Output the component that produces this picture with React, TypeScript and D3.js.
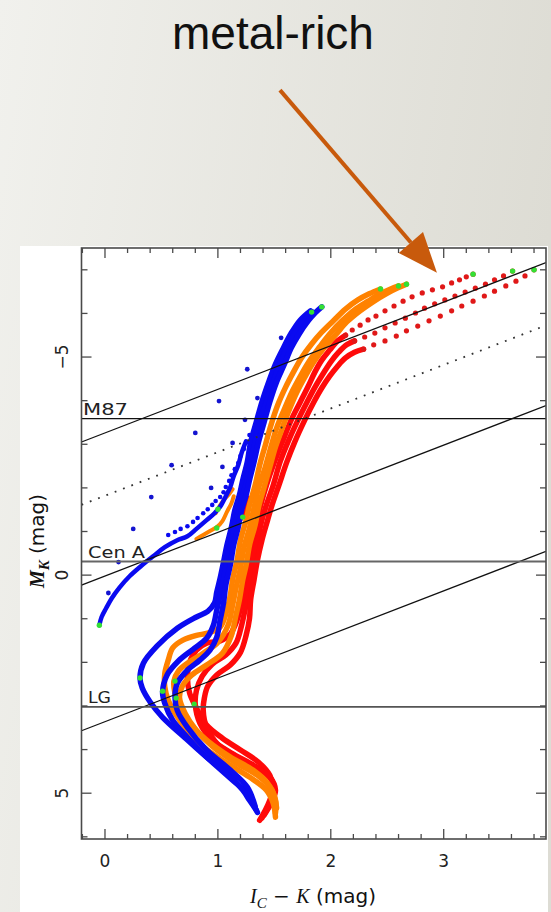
import React from 'react';
import * as d3 from 'd3';

type P = [number, number];

// ---------- axes ----------
const X_DOMAIN: [number, number] = [-0.208, 3.906];
const Y_DOMAIN: [number, number] = [-7.5, 6.05];
const X_MAJOR = [0, 1, 2, 3];
const X_TICK_LABELS = ['0', '1', '2', '3'];
const Y_MAJOR = [-5, 0, 5];
const Y_TICK_LABELS = ['\u22125', '0', '5'];

// ---------- reference lines ----------
const HLINE_LABELS = ['M87', 'Cen A', 'LG'];
const HLINE_MK = [-3.59, -0.31, 3.02];
const DIAG_SOLID_C = [-3.26, 0.02, 3.36]; // M_K = c - (I-K)
const DIAG_DOTTED_C = [-1.82];

// ---------- isochrones (I_C-K, M_K) ----------
const BLUE_1: P[] = [[1.35,5.44],[1.31,5.23],[1.26,5.00],[1.13,4.70],[0.96,4.31],[0.73,3.78],[0.51,3.26],[0.40,2.91],[0.33,2.59],[0.31,2.36],[0.34,2.02],[0.46,1.63],[0.64,1.22],[0.81,0.96],[0.91,0.83],[0.97,0.64],[0.99,0.39],[1.02,0.07],[1.05,-0.30],[1.08,-0.69],[1.12,-1.10],[1.15,-1.49],[1.19,-1.83],[1.22,-2.18],[1.26,-2.59],[1.29,-3.05],[1.34,-3.51],[1.39,-3.97],[1.45,-4.43],[1.51,-4.84],[1.58,-5.21],[1.65,-5.55],[1.73,-5.85],[1.82,-6.06]];
const BLUE_2: P[] = [[1.34,5.39],[1.28,5.16],[1.22,4.93],[1.08,4.54],[0.90,4.17],[0.73,3.72],[0.60,3.33],[0.53,2.94],[0.51,2.68],[0.55,2.29],[0.65,1.97],[0.78,1.70],[0.90,1.45],[0.96,1.15],[0.99,0.80],[1.02,0.46],[1.05,0.11],[1.08,-0.34],[1.12,-0.76],[1.15,-1.15],[1.19,-1.49],[1.22,-1.83],[1.26,-2.18],[1.29,-2.59],[1.33,-3.05],[1.37,-3.51],[1.43,-3.97],[1.49,-4.43],[1.55,-4.84],[1.61,-5.21],[1.68,-5.55],[1.76,-5.83],[1.84,-6.03]];
const BLUE_3: P[] = [[1.33,5.30],[1.26,4.86],[1.11,4.47],[0.90,4.01],[0.73,3.49],[0.64,3.10],[0.62,2.80],[0.64,2.48],[0.73,2.18],[0.84,1.95],[0.93,1.72],[0.99,1.42],[1.02,1.03],[1.05,0.64],[1.07,0.23],[1.11,-0.23],[1.14,-0.69],[1.18,-1.10],[1.21,-1.49],[1.25,-1.83],[1.28,-2.18],[1.32,-2.59],[1.36,-3.05],[1.41,-3.51],[1.46,-3.97],[1.52,-4.43],[1.59,-4.84],[1.65,-5.21],[1.72,-5.53],[1.80,-5.83],[1.86,-6.01],[1.92,-6.15]];
const BLUE_HB: P[] = [[-0.05,1.15],[-0.03,0.96],[0.01,0.76],[0.06,0.53],[0.13,0.28],[0.22,0.02],[0.32,-0.21],[0.43,-0.44],[0.53,-0.64],[0.64,-0.80],[0.73,-0.89],[0.81,-1.06],[0.90,-1.26],[0.97,-1.42],[1.03,-1.61],[1.07,-1.81],[1.11,-2.02],[1.14,-2.27],[1.18,-2.52],[1.21,-2.80],[1.25,-3.07]];
const BLUE_AGB_DOTS: P[] = [[0.56,-0.92],[0.62,-0.99],[0.67,-1.06],[0.73,-1.12],[0.78,-1.22],[0.82,-1.31],[0.87,-1.42],[0.91,-1.51],[0.95,-1.61],[0.98,-1.70],[1.02,-1.79],[1.05,-1.90],[1.07,-2.02],[1.10,-2.16],[1.12,-2.29],[1.15,-2.43],[1.18,-2.57],[1.20,-2.73],[1.23,-2.89],[1.26,-3.05],[1.28,-3.21]];
const BLUE_SCATTER: P[] = [[1.56,-5.44],[1.26,-4.72],[1.01,-3.99],[1.35,-4.06],[0.80,-3.26],[1.13,-3.03],[1.24,-3.56],[0.59,-2.52],[1.04,-2.48],[0.94,-2.00],[0.41,-1.79],[0.25,-1.06],[0.12,-0.30],[0.03,0.41]];

const ORANGE_1: P[] = [[1.51,5.55],[1.49,5.23],[1.43,4.93],[1.28,4.63],[1.08,4.31],[0.87,3.94],[0.73,3.56],[0.62,3.17],[0.56,2.87],[0.53,2.57],[0.53,2.25],[0.56,1.95],[0.60,1.67],[0.69,1.49],[0.81,1.38],[0.91,1.33],[1.02,1.19],[1.08,0.80],[1.11,0.46],[1.13,0.11],[1.17,-0.34],[1.20,-0.80],[1.25,-1.26],[1.28,-1.61],[1.33,-2.06],[1.37,-2.52],[1.42,-2.98],[1.47,-3.44],[1.53,-3.90],[1.60,-4.31],[1.67,-4.66],[1.74,-4.98],[1.83,-5.30],[1.92,-5.57],[2.03,-5.85],[2.13,-6.10],[2.24,-6.31],[2.34,-6.45],[2.44,-6.56]];
const ORANGE_2: P[] = [[1.51,5.46],[1.51,5.16],[1.44,4.77],[1.31,4.47],[1.11,4.17],[0.90,3.78],[0.75,3.39],[0.66,3.03],[0.62,2.71],[0.61,2.43],[0.65,2.20],[0.73,2.02],[0.87,1.79],[1.00,1.54],[1.09,1.15],[1.13,0.69],[1.16,0.30],[1.20,-0.16],[1.23,-0.62],[1.28,-1.08],[1.32,-1.54],[1.36,-2.00],[1.42,-2.48],[1.47,-2.94],[1.52,-3.37],[1.59,-3.81],[1.66,-4.22],[1.73,-4.56],[1.81,-4.91],[1.90,-5.23],[1.99,-5.53],[2.10,-5.83],[2.21,-6.08],[2.33,-6.28],[2.44,-6.45],[2.53,-6.56],[2.60,-6.63]];
const ORANGE_3: P[] = [[1.52,5.34],[1.48,4.93],[1.36,4.61],[1.15,4.29],[0.95,3.92],[0.81,3.56],[0.71,3.17],[0.66,2.80],[0.69,2.52],[0.77,2.29],[0.90,2.06],[1.04,1.79],[1.12,1.38],[1.16,0.92],[1.19,0.57],[1.22,0.11],[1.25,-0.23],[1.28,-0.69],[1.33,-1.15],[1.36,-1.56],[1.41,-2.02],[1.46,-2.48],[1.51,-2.94],[1.57,-3.37],[1.63,-3.78],[1.70,-4.20],[1.77,-4.54],[1.85,-4.89],[1.94,-5.21],[2.04,-5.50],[2.14,-5.80],[2.26,-6.06],[2.37,-6.26],[2.49,-6.45],[2.59,-6.58],[2.67,-6.67]];
const ORANGE_HB_1: P[] = [[0.81,-0.83],[0.87,-0.92],[0.93,-1.01],[0.99,-1.10],[1.04,-1.24],[1.08,-1.45],[1.12,-1.65],[1.14,-1.81]];
const ORANGE_HB_2: P[] = [[0.98,-1.42],[1.01,-1.56],[1.05,-1.72],[1.10,-1.86],[1.13,-1.97]];

const RED_1: P[] = [[1.37,5.62],[1.42,5.39],[1.46,5.16],[1.49,4.89],[1.46,4.59],[1.36,4.29],[1.20,4.01],[1.04,3.74],[0.90,3.44],[0.81,3.05],[0.75,2.71],[0.73,2.34],[0.75,2.00],[0.81,1.72],[0.90,1.56],[1.02,1.51],[1.11,1.35],[1.17,1.03],[1.20,0.76],[1.22,0.57],[1.25,0.11],[1.28,-0.34],[1.31,-0.80],[1.35,-1.26],[1.38,-1.61],[1.43,-2.06],[1.50,-2.59],[1.57,-3.05],[1.65,-3.56],[1.73,-3.97],[1.80,-4.33],[1.86,-4.66],[1.92,-4.93],[1.99,-5.16],[2.06,-5.37],[2.13,-5.50]];
const RED_2: P[] = [[1.39,5.57],[1.45,5.30],[1.50,5.00],[1.47,4.68],[1.33,4.38],[1.12,4.08],[0.95,3.78],[0.84,3.39],[0.80,2.98],[0.81,2.64],[0.86,2.32],[0.95,2.04],[1.07,1.83],[1.16,1.56],[1.21,1.15],[1.24,0.80],[1.26,0.57],[1.28,0.11],[1.31,-0.34],[1.35,-0.80],[1.39,-1.26],[1.43,-1.61],[1.49,-2.06],[1.55,-2.59],[1.62,-3.05],[1.71,-3.56],[1.79,-3.97],[1.86,-4.31],[1.93,-4.61],[2.00,-4.89],[2.07,-5.11],[2.14,-5.28],[2.21,-5.37]];
const RED_3: P[] = [[1.41,5.50],[1.48,5.18],[1.51,4.93],[1.46,4.63],[1.36,4.45],[1.17,4.17],[1.00,3.88],[0.90,3.49],[0.87,3.10],[0.88,2.82],[0.91,2.55],[0.99,2.29],[1.11,2.06],[1.20,1.77],[1.25,1.38],[1.28,0.99],[1.29,0.57],[1.32,0.11],[1.35,-0.34],[1.39,-0.80],[1.44,-1.26],[1.48,-1.61],[1.54,-2.06],[1.61,-2.59],[1.68,-3.05],[1.77,-3.56],[1.85,-3.97],[1.92,-4.29],[1.99,-4.56],[2.06,-4.79],[2.13,-4.98],[2.21,-5.11],[2.29,-5.18]];
const RED_HB: P[] = [[1.20,-1.26],[1.23,-1.42],[1.26,-1.61],[1.28,-1.77]];
const RED_DOTS_1: P[] = [[2.13,-5.50],[2.19,-5.62],[2.26,-5.73],[2.33,-5.85],[2.40,-5.94],[2.48,-6.06],[2.56,-6.17],[2.64,-6.28],[2.72,-6.38],[2.81,-6.47],[2.90,-6.54],[2.99,-6.61],[3.07,-6.70],[3.14,-6.77],[3.20,-6.84],[3.26,-6.90]];
const RED_DOTS_2: P[] = [[2.21,-5.37],[2.30,-5.46],[2.39,-5.55],[2.48,-5.67],[2.57,-5.78],[2.66,-5.89],[2.75,-6.01],[2.83,-6.12],[2.92,-6.22],[3.01,-6.31],[3.10,-6.40],[3.19,-6.49],[3.28,-6.58],[3.37,-6.67],[3.45,-6.77],[3.53,-6.86],[3.61,-6.97]];
const RED_DOTS_3: P[] = [[2.29,-5.18],[2.38,-5.28],[2.48,-5.37],[2.58,-5.48],[2.67,-5.60],[2.77,-5.71],[2.87,-5.83],[2.97,-5.94],[3.07,-6.06],[3.16,-6.17],[3.26,-6.28],[3.36,-6.40],[3.45,-6.51],[3.55,-6.63],[3.64,-6.74],[3.72,-6.86],[3.80,-7.00]];

const GREEN_POINTS: P[] = [[1.83,-6.03],[1.92,-6.15],[-0.05,1.15],[0.31,2.36],[0.51,2.66],[0.62,2.43],[0.63,2.82],[0.79,2.96],[1.00,-1.51],[0.99,-1.08],[1.22,-1.33],[2.44,-6.56],[2.60,-6.63],[2.67,-6.67],[3.26,-6.90],[3.61,-6.97],[3.80,-7.00]];

// annotation arrow (data coordinates, start lies above the frame)
const ARROW_FROM: P = [1.55, -11.12];
const ARROW_TO: P = [2.94, -6.93];

const BLUE = '#0a0af0';
const ORANGE = '#ff8200';
const RED = '#ff0a0a';
const GREEN = '#33e033';

export default function App() {
  const left = 81.5, right = 546, top = 248, bottom = 839;
  const x = d3.scaleLinear().domain(X_DOMAIN).range([left, right]);
  const y = d3.scaleLinear().domain(Y_DOMAIN).range([top, bottom]);
  const line = d3.line<P>().x(d => x(d[0])).y(d => y(d[1])).curve(d3.curveCatmullRom.alpha(0.5));

  const xMinor = d3.range(-1, 20).map(i => +(i * 0.2).toFixed(2));
  const yMinor = d3.range(-7, 7);
  const isInt = (v: number) => Math.abs(v - Math.round(v)) < 1e-6;

  const curves: { d: P[]; c: string; w: number }[] = [
    { d: RED_1, c: RED, w: 5.5 },
    { d: RED_2, c: RED, w: 5.5 },
    { d: RED_3, c: RED, w: 5.5 },
    { d: RED_HB, c: RED, w: 4 },
    { d: ORANGE_1, c: ORANGE, w: 5.5 },
    { d: ORANGE_2, c: ORANGE, w: 5.5 },
    { d: ORANGE_3, c: ORANGE, w: 5.5 },
    { d: ORANGE_HB_1, c: ORANGE, w: 4 },
    { d: ORANGE_HB_2, c: ORANGE, w: 4 },
    { d: BLUE_1, c: BLUE, w: 5.5 },
    { d: BLUE_2, c: BLUE, w: 5.5 },
    { d: BLUE_3, c: BLUE, w: 5.5 },
    { d: BLUE_HB, c: BLUE, w: 4.5 },
  ];

  // arrow geometry
  const ax0 = x(ARROW_FROM[0]), ay0 = y(ARROW_FROM[1]);
  const ax1 = x(ARROW_TO[0]), ay1 = y(ARROW_TO[1]);
  const len = Math.hypot(ax1 - ax0, ay1 - ay0);
  const ux = (ax1 - ax0) / len, uy = (ay1 - ay0) / len;
  const headL = 40, headW = 16;
  const bx = ax1 - ux * headL, by = ay1 - uy * headL;
  const head = `M${ax1},${ay1} L${bx + uy * headW},${by - ux * headW} L${bx - uy * headW},${by + ux * headW} Z`;

  const sans = 'DejaVu Sans, sans-serif';
  const serif = 'Liberation Serif, DejaVu Serif, serif';
  const frameC = '#4a4a4a';
  const hlineStyle = [
    { c: '#111', w: 1.3 },
    { c: '#666', w: 2 },
    { c: '#555', w: 1.8 },
  ];
  const labelLen = [45, 57, 23];

  return (
    <svg width={551} height={912} style={{ position: 'absolute', left: 0, top: 0, display: 'block' }}
      xmlns="http://www.w3.org/2000/svg">
      <defs>
        <linearGradient id="bg" x1="0" y1="0" x2="1" y2="0.25">
          <stop offset="0" stopColor="#f1f1ed" />
          <stop offset="1" stopColor="#dddcd4" />
        </linearGradient>
        <clipPath id="plotclip">
          <rect x={left} y={top} width={right - left} height={bottom - top} />
        </clipPath>
      </defs>
      <rect x={0} y={0} width={551} height={912} fill="url(#bg)" />
      <text x={273} y={49} textAnchor="middle" fontFamily="Liberation Sans, Arial, sans-serif" fontSize={46} fill="#111">metal-rich</text>

      <rect x={20} y={246} width={528} height={666} fill="#fff" />

      <g clipPath="url(#plotclip)">
        {curves.map((cv, i) => (
          <path key={'c' + i} d={line(cv.d) || ''} fill="none" stroke={cv.c} strokeWidth={cv.w}
            strokeLinecap="round" strokeLinejoin="round" />
        ))}
        {[RED_DOTS_1, RED_DOTS_2, RED_DOTS_3].map((arr, k) => arr.map((p, i) => (
          <circle key={`r${k}-${i}`} cx={x(p[0])} cy={y(p[1])} r={2.6} fill="#e01818" />
        )))}
        {BLUE_AGB_DOTS.map((p, i) => <circle key={'ba' + i} cx={x(p[0])} cy={y(p[1])} r={2.3} fill={BLUE} />)}
        {BLUE_SCATTER.map((p, i) => <circle key={'bs' + i} cx={x(p[0])} cy={y(p[1])} r={2.4} fill="#1414d0" />)}
        {GREEN_POINTS.map((p, i) => <circle key={'g' + i} cx={x(p[0])} cy={y(p[1])} r={2.7} fill={GREEN} />)}

        {/* reference lines */}
        {DIAG_SOLID_C.map((c, i) => (
          <line key={'ds' + i} x1={x(X_DOMAIN[0])} y1={y(c - X_DOMAIN[0])} x2={x(X_DOMAIN[1])} y2={y(c - X_DOMAIN[1])}
            stroke="#111" strokeWidth={1.3} />
        ))}
        {DIAG_DOTTED_C.map((c, i) => (
          <line key={'dd' + i} x1={x(X_DOMAIN[0])} y1={y(c - X_DOMAIN[0])} x2={x(X_DOMAIN[1])} y2={y(c - X_DOMAIN[1])}
            stroke="#333" strokeWidth={1.8} strokeDasharray="1.8 7.1" />
        ))}
        {HLINE_MK.map((m, i) => (
          <line key={'h' + i} x1={left} x2={right} y1={y(m)} y2={y(m)} stroke={hlineStyle[i].c} strokeWidth={hlineStyle[i].w} />
        ))}
      </g>

      {HLINE_MK.map((m, i) => (
        <text key={'hl' + i} x={i === 0 ? left + 1.5 : left + 6.5} y={y(m) - 4} fontFamily={sans} fontSize={16}
          fill="#222" textLength={labelLen[i]} lengthAdjust="spacingAndGlyphs">{HLINE_LABELS[i]}</text>
      ))}

      {/* frame */}
      <rect x={left} y={top} width={right - left} height={bottom - top} fill="none" stroke={frameC} strokeWidth={1.6} />
      {xMinor.map((v, i) => {
        const L = isInt(v) ? 10 : 5;
        return (
          <g key={'xt' + i} stroke={frameC} strokeWidth={1.3}>
            <line x1={x(v)} x2={x(v)} y1={bottom} y2={bottom - L} />
            <line x1={x(v)} x2={x(v)} y1={top} y2={top + L} />
          </g>
        );
      })}
      {yMinor.map((v, i) => {
        const L = v % 5 === 0 ? 10 : 6;
        return (
          <g key={'yt' + i} stroke={frameC} strokeWidth={1.3}>
            <line x1={left} x2={left + L} y1={y(v)} y2={y(v)} />
            <line x1={right} x2={right - L} y1={y(v)} y2={y(v)} />
          </g>
        );
      })}
      {X_MAJOR.map((v, i) => (
        <text key={'xl' + i} x={x(v)} y={867} textAnchor="middle" fontFamily={sans} fontSize={17} fill="#222">{X_TICK_LABELS[i]}</text>
      ))}
      {Y_MAJOR.map((v, i) => (
        <text key={'yl' + i} transform={`translate(68,${y(v)}) rotate(-90)`} textAnchor="middle" fontFamily={sans}
          fontSize={17} fill="#222">{Y_TICK_LABELS[i]}</text>
      ))}

      {/* axis titles */}
      <text x={313} y={903} textAnchor="middle" fill="#111" fontSize={20}>
        <tspan fontFamily={serif} fontStyle="italic">I</tspan>
        <tspan fontFamily={serif} fontStyle="italic" fontSize={15} dy={5}>C</tspan>
        <tspan fontFamily={sans} dy={-5}>{' \u2212 '}</tspan>
        <tspan fontFamily={serif} fontStyle="italic">K</tspan>
        <tspan fontFamily={sans}>{' (mag)'}</tspan>
      </text>
      <text transform="translate(44,541) rotate(-90)" textAnchor="middle" fill="#111" fontSize={20}>
        <tspan fontFamily={serif} fontStyle="italic" fontWeight="bold">M</tspan>
        <tspan fontFamily={serif} fontStyle="italic" fontWeight="bold" fontSize={15} dy={5}>K</tspan>
        <tspan fontFamily={sans} dy={-5}>{' (mag)'}</tspan>
      </text>

      {/* annotation arrow */}
      <line x1={ax0} y1={ay0} x2={bx} y2={by} stroke="#c85a0c" strokeWidth={4} />
      <path d={head} fill="#c85a0c" />
    </svg>
  );
}
